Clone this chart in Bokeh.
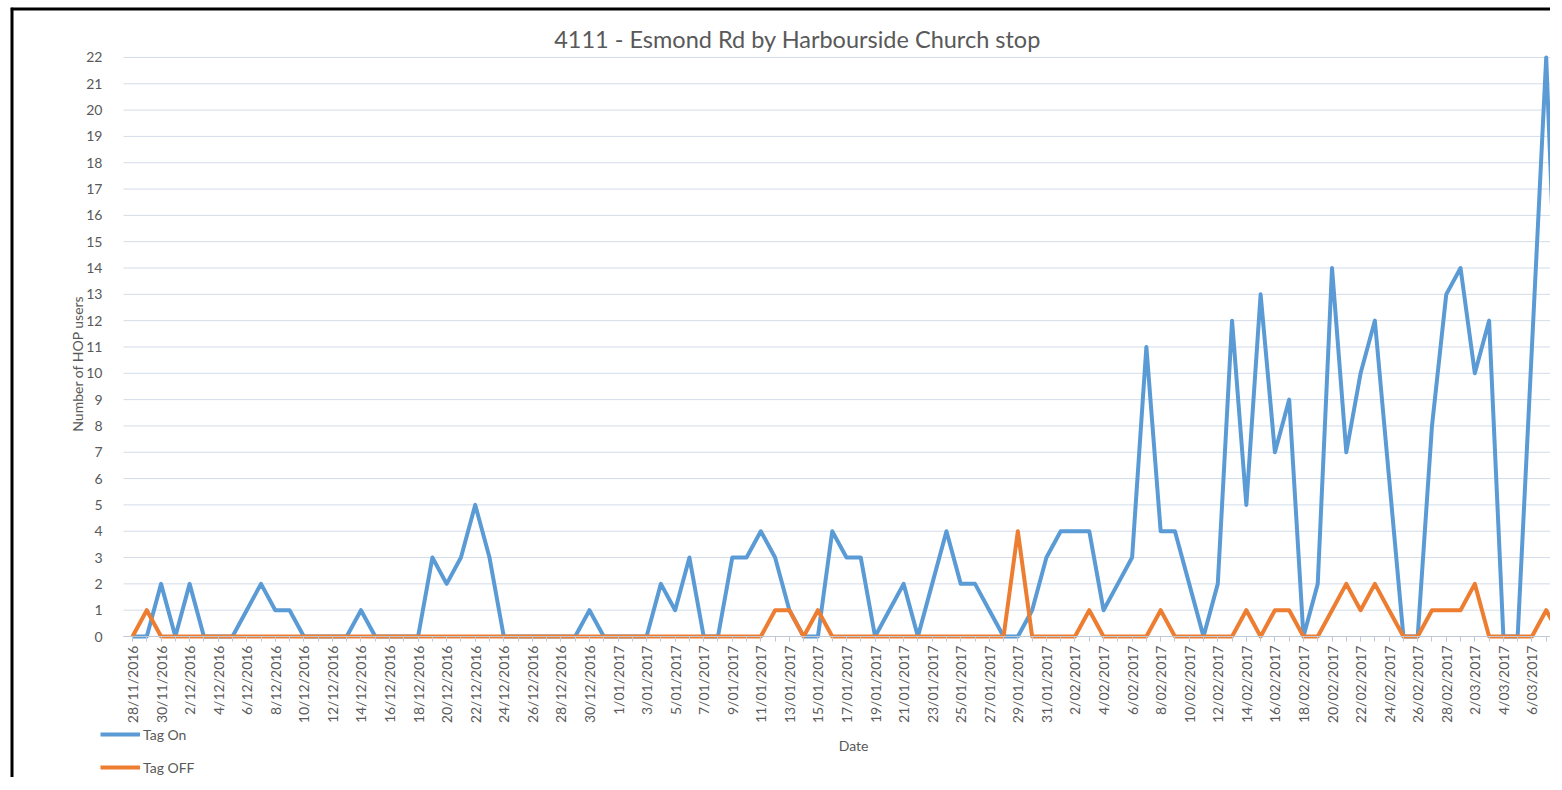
from math import pi
from bokeh.plotting import figure
from bokeh.models import FixedTicker, Label, Legend, LegendItem, Range1d, Span
from bokeh.embed import file_html
from bokeh.resources import INLINE

# ---------------- data ----------------
dates = [
    "28/11/2016", "29/11/2016", "30/11/2016",
    "1/12/2016", "2/12/2016", "3/12/2016", "4/12/2016", "5/12/2016", "6/12/2016", "7/12/2016",
    "8/12/2016", "9/12/2016", "10/12/2016", "11/12/2016", "12/12/2016", "13/12/2016", "14/12/2016",
    "15/12/2016", "16/12/2016", "17/12/2016", "18/12/2016", "19/12/2016", "20/12/2016", "21/12/2016",
    "22/12/2016", "23/12/2016", "24/12/2016", "25/12/2016", "26/12/2016", "27/12/2016", "28/12/2016",
    "29/12/2016", "30/12/2016", "31/12/2016",
    "1/01/2017", "2/01/2017", "3/01/2017", "4/01/2017", "5/01/2017", "6/01/2017", "7/01/2017",
    "8/01/2017", "9/01/2017", "10/01/2017", "11/01/2017", "12/01/2017", "13/01/2017", "14/01/2017",
    "15/01/2017", "16/01/2017", "17/01/2017", "18/01/2017", "19/01/2017", "20/01/2017", "21/01/2017",
    "22/01/2017", "23/01/2017", "24/01/2017", "25/01/2017", "26/01/2017", "27/01/2017", "28/01/2017",
    "29/01/2017", "30/01/2017", "31/01/2017",
    "1/02/2017", "2/02/2017", "3/02/2017", "4/02/2017", "5/02/2017", "6/02/2017", "7/02/2017",
    "8/02/2017", "9/02/2017", "10/02/2017", "11/02/2017", "12/02/2017", "13/02/2017", "14/02/2017",
    "15/02/2017", "16/02/2017", "17/02/2017", "18/02/2017", "19/02/2017", "20/02/2017", "21/02/2017",
    "22/02/2017", "23/02/2017", "24/02/2017", "25/02/2017", "26/02/2017", "27/02/2017", "28/02/2017",
    "1/03/2017", "2/03/2017", "3/03/2017", "4/03/2017", "5/03/2017", "6/03/2017", "7/03/2017",
    "8/03/2017",
]

tag_on = [0, 0, 2, 0, 2, 0, 0, 0, 1, 2,
          1, 1, 0, 0, 0, 0, 1, 0, 0, 0,
          0, 3, 2, 3, 5, 3, 0, 0, 0, 0,
          0, 0, 1, 0, 0, 0, 0, 2, 1, 3,
          0, 0, 3, 3, 4, 3, 1, 0, 0, 4,
          3, 3, 0, 1, 2, 0, 2, 4, 2, 2,
          1, 0, 0, 1, 3, 4, 4, 4, 1, 2,
          3, 11, 4, 4, 2, 0, 2, 12, 5, 13,
          7, 9, 0, 2, 14, 7, 10, 12, 6, 0,
          0, 8, 13, 14, 10, 12, 0, 0, 11, 22,
          8]

tag_off = [0, 1, 0, 0, 0, 0, 0, 0, 0, 0,
           0, 0, 0, 0, 0, 0, 0, 0, 0, 0,
           0, 0, 0, 0, 0, 0, 0, 0, 0, 0,
           0, 0, 0, 0, 0, 0, 0, 0, 0, 0,
           0, 0, 0, 0, 0, 1, 1, 0, 1, 0,
           0, 0, 0, 0, 0, 0, 0, 0, 0, 0,
           0, 0, 4, 0, 0, 0, 0, 1, 0, 0,
           0, 0, 1, 0, 0, 0, 0, 0, 1, 0,
           1, 1, 0, 0, 1, 2, 1, 2, 1, 0,
           0, 1, 1, 1, 2, 0, 0, 0, 0, 1,
           0]

y_ticks = list(range(0, 23))
title_text = "4111 - Esmond Rd by Harbourside Church stop"
y_title = "Number of HOP users"
x_title = "Date"
series_names = ["Tag On", "Tag OFF"]

# ---------------- styling / layout ----------------
BLUE = "#5B9BD5"
ORANGE = "#ED7D31"
TXT = "#595959"
GRID = "#D3DCE8"
AXIS = "#BFC8D6"
FONT = "Lato"

W, H = 1540, 770
PX_DAY = 14.28          # pixels per day
PX_UNIT = 26.32         # pixels per user
X0_PX = 122             # canvas x of first date
Y0_PX = 629             # canvas y of value 0
X_START = -X0_PX / PX_DAY
X_END = X_START + W / PX_DAY
Y_TOP = Y0_PX / PX_UNIT
Y_BOT = -(H - Y0_PX) / PX_UNIT
PLOT_LEFT = -0.63       # left edge of the plot area (in days)

idx = list(range(len(dates)))

p = figure(width=W, height=H, output_backend="svg", toolbar_location=None,
           title=None,
           x_range=Range1d(X_START, X_END), y_range=Range1d(Y_BOT, Y_TOP),
           min_border=0, min_border_left=0, min_border_right=0,
           min_border_top=0, min_border_bottom=0)
p.outline_line_color = None
p.background_fill_color = "white"
p.border_fill_color = "white"
p.styles = {"margin-left": "10px", "margin-top": "7px"}

# chart-area border (left and top edges; the right side is cut off)
p.add_layout(Span(location=X_START, dimension="height", line_color="black",
                  line_width=6))
p.add_layout(Span(location=Y_TOP, dimension="width", line_color="black",
                  line_width=6))

# horizontal gridlines restricted to the plot area
p.segment(x0=[PLOT_LEFT] * len(y_ticks), y0=y_ticks,
          x1=[X_END + 1] * len(y_ticks), y1=y_ticks,
          line_color=GRID, line_width=1, level="underlay")
p.xgrid.grid_line_color = None
p.ygrid.grid_line_color = None

r_on = p.line(idx, tag_on, line_color=BLUE, line_width=4, line_join="round")
r_off = p.line(idx, tag_off, line_color=ORANGE, line_width=4, line_join="round")

# x axis fixed at y = 0
xa = p.xaxis[0]
xa.fixed_location = 0
xa.bounds = (PLOT_LEFT, X_END + 1)
xa.ticker = FixedTicker(ticks=idx[::2], minor_ticks=idx)
xa.major_label_overrides = {i: dates[i] for i in idx[::2]}
xa.major_label_orientation = pi / 2
xa.major_label_text_font = FONT
xa.major_label_text_font_size = "14px"
xa.major_label_text_color = TXT
xa.major_label_standoff = 4
xa.axis_line_color = AXIS
xa.major_tick_line_color = AXIS
xa.minor_tick_line_color = AXIS
xa.major_tick_in = 0
xa.major_tick_out = 5
xa.minor_tick_in = 0
xa.minor_tick_out = 5

# y axis fixed at the plot area's left edge
ya = p.yaxis[0]
ya.fixed_location = PLOT_LEFT
ya.bounds = (0, 22)
ya.ticker = FixedTicker(ticks=y_ticks)
ya.axis_line_color = None
ya.major_tick_line_color = None
ya.minor_tick_line_color = None
ya.major_label_text_font = FONT
ya.major_label_text_font_size = "14px"
ya.major_label_text_color = TXT
ya.major_label_standoff = 15

# titles as labels (inside the canvas-wide frame)
p.add_layout(Label(x=46.57, y=22.72, text=title_text, text_align="center",
                   text_baseline="middle", text_font=FONT,
                   text_font_size="23.5px", text_color=TXT))
p.add_layout(Label(x=-3.85, y=10.37, text=y_title, angle=pi / 2,
                   text_align="center", text_baseline="middle",
                   text_font=FONT, text_font_size="14px", text_color=TXT))
p.add_layout(Label(x=50.5, y=-4.14, text=x_title, text_align="center",
                   text_baseline="middle", text_font=FONT,
                   text_font_size="14px", text_color=TXT))

legend = Legend(items=[LegendItem(label=series_names[0], renderers=[r_on]),
                       LegendItem(label=series_names[1], renderers=[r_off])],
                location=(90, 0), orientation="vertical",
                glyph_width=40, glyph_height=20, label_height=20, spacing=13,
                padding=0, margin=0, label_standoff=3,
                border_line_color=None, background_fill_alpha=0,
                label_text_font=FONT, label_text_font_size="14px",
                label_text_color=TXT)
p.add_layout(legend)

open("out.html", "w").write(file_html(p, INLINE))
